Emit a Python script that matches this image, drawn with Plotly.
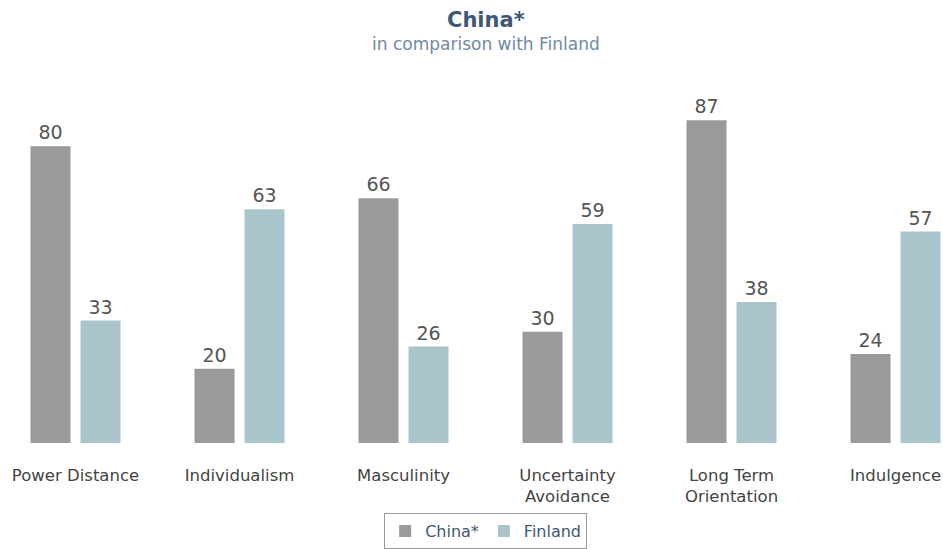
import plotly.graph_objects as go

categories = ["Power Distance", "Individualism", "Masculinity",
              "Uncertainty<br>Avoidance", "Long Term<br>Orientation", "Indulgence"]
china = [80, 20, 66, 30, 87, 24]
finland = [33, 63, 26, 59, 38, 57]

FONT = "DejaVu Sans"
fig = go.Figure()
fig.add_trace(go.Bar(name="China*", x=categories, y=china, marker_color="#9b999c",
                     marker_line_width=0, text=china, textposition="outside",
                     textfont=dict(size=19, color="#555555", family=FONT),
                     cliponaxis=False))
fig.add_trace(go.Bar(name="Finland", x=categories, y=finland, marker_color="#aac4cc",
                     marker_line_width=0, text=finland, textposition="outside",
                     textfont=dict(size=19, color="#555555", family=FONT),
                     cliponaxis=False))

fig.update_layout(
    width=943, height=549,
    margin=dict(l=0, r=0, t=72, b=103),
    paper_bgcolor="white", plot_bgcolor="white",
    barmode="group", bargap=0.39, bargroupgap=0.2,
    font=dict(family=FONT, color="#444444"),
    showlegend=True,
    legend=dict(orientation="h", x=0.515, xanchor="center", y=-0.19, yanchor="top",
                bordercolor="#999999", borderwidth=1,
                font=dict(size=16, color="#3d5877", family=FONT),
                itemsizing="constant"),
    xaxis=dict(range=[-0.4604, 5.2896], showgrid=False, showline=False, zeroline=False,
               tickfont=dict(size=16.5, color="#444444", family=FONT),
               ticks="outside", ticklen=17, tickcolor="rgba(0,0,0,0)"),
    yaxis=dict(range=[0, 100], visible=False),
    annotations=[
        dict(text="<b>China*</b>", x=0.515, y=1.139, xref="paper", yref="paper",
             xanchor="center", yanchor="middle", showarrow=False,
             font=dict(size=21, color="#3d5877", family=FONT)),
        dict(text="in comparison with Finland", x=0.515, y=1.075, xref="paper", yref="paper",
             xanchor="center", yanchor="middle", showarrow=False,
             font=dict(size=17, color="#6f8aa6", family=FONT)),
    ],
)
fig.write_html("out.html", config={"displayModeBar": False},
               post_script="document.body.style.margin='0';document.body.style.overflow='hidden';")
